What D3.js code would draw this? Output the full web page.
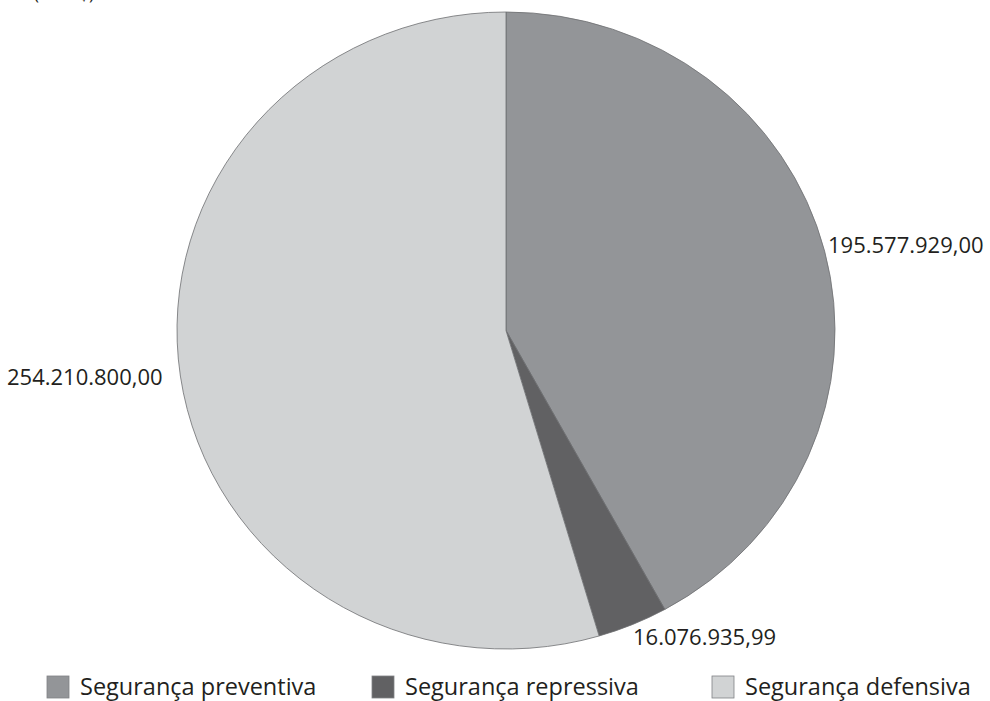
<!DOCTYPE html>
<html><head><meta charset="utf-8">
<script src="https://cdn.jsdelivr.net/npm/d3@7"></script>
<style>body{margin:0;background:#fff;} svg{display:block;} text{font-family:"Open Sans","Noto Sans",sans-serif;fill:#231f20;}</style>
</head><body>
<svg id="c" width="990" height="701"></svg>
<script>
const categories = ["Segurança preventiva", "Segurança repressiva", "Segurança defensiva"];
const values = [195577929.00, 16076935.99, 254210800.00];
const valueLabels = ["195.577.929,00", "16.076.935,99", "254.210.800,00"];
const colors = ["#939598", "#616163", "#d1d3d4"];
const unitLabel = "(em R$)";

const svg = d3.select("#c");
const cx = 506, cy = 330.5, ry = 318.5, rx = 329;

svg.append("text").attr("x", 34).attr("y", 0).attr("font-size", 17).text(unitLabel);

const pie = d3.pie().sort(null).value(d => d)(values);
const arc = d3.arc().innerRadius(0).outerRadius(ry);
const g = svg.append("g").attr("transform", `translate(${cx},${cy}) scale(${rx/ry},1)`);
g.selectAll("path").data(pie).join("path")
  .attr("d", arc)
  .attr("fill", (d,i) => colors[i])
  .attr("stroke", "#6d6e71")
  .attr("stroke-width", 0.8)
  .attr("vector-effect", "non-scaling-stroke");

// value labels
const labelPos = [
  {x: 828, y: 253},
  {x: 633, y: 645},
  {x: 7, y: 385}
];
svg.selectAll("text.val").data(pie).join("text").attr("class","val")
  .attr("x", (d,i) => labelPos[i].x)
  .attr("y", (d,i) => labelPos[i].y)
  .attr("font-size", 22)
  .attr("font-weight", 500)
  .text((d,i) => valueLabels[i]);

// legend
const legX = [47, 372, 712];
const lg = svg.selectAll("g.leg").data(categories).join("g").attr("class","leg")
  .attr("transform", (d,i) => `translate(${legX[i]},676)`);
lg.append("rect").attr("width", 22).attr("height", 22)
  .attr("fill", (d,i) => colors[i]).attr("stroke", "#808285").attr("stroke-width", 0.8);
lg.append("text").attr("x", 33).attr("y", 19).attr("font-size", 23.5).attr("font-weight", 500).text(d => d);
</script>
</body></html>
